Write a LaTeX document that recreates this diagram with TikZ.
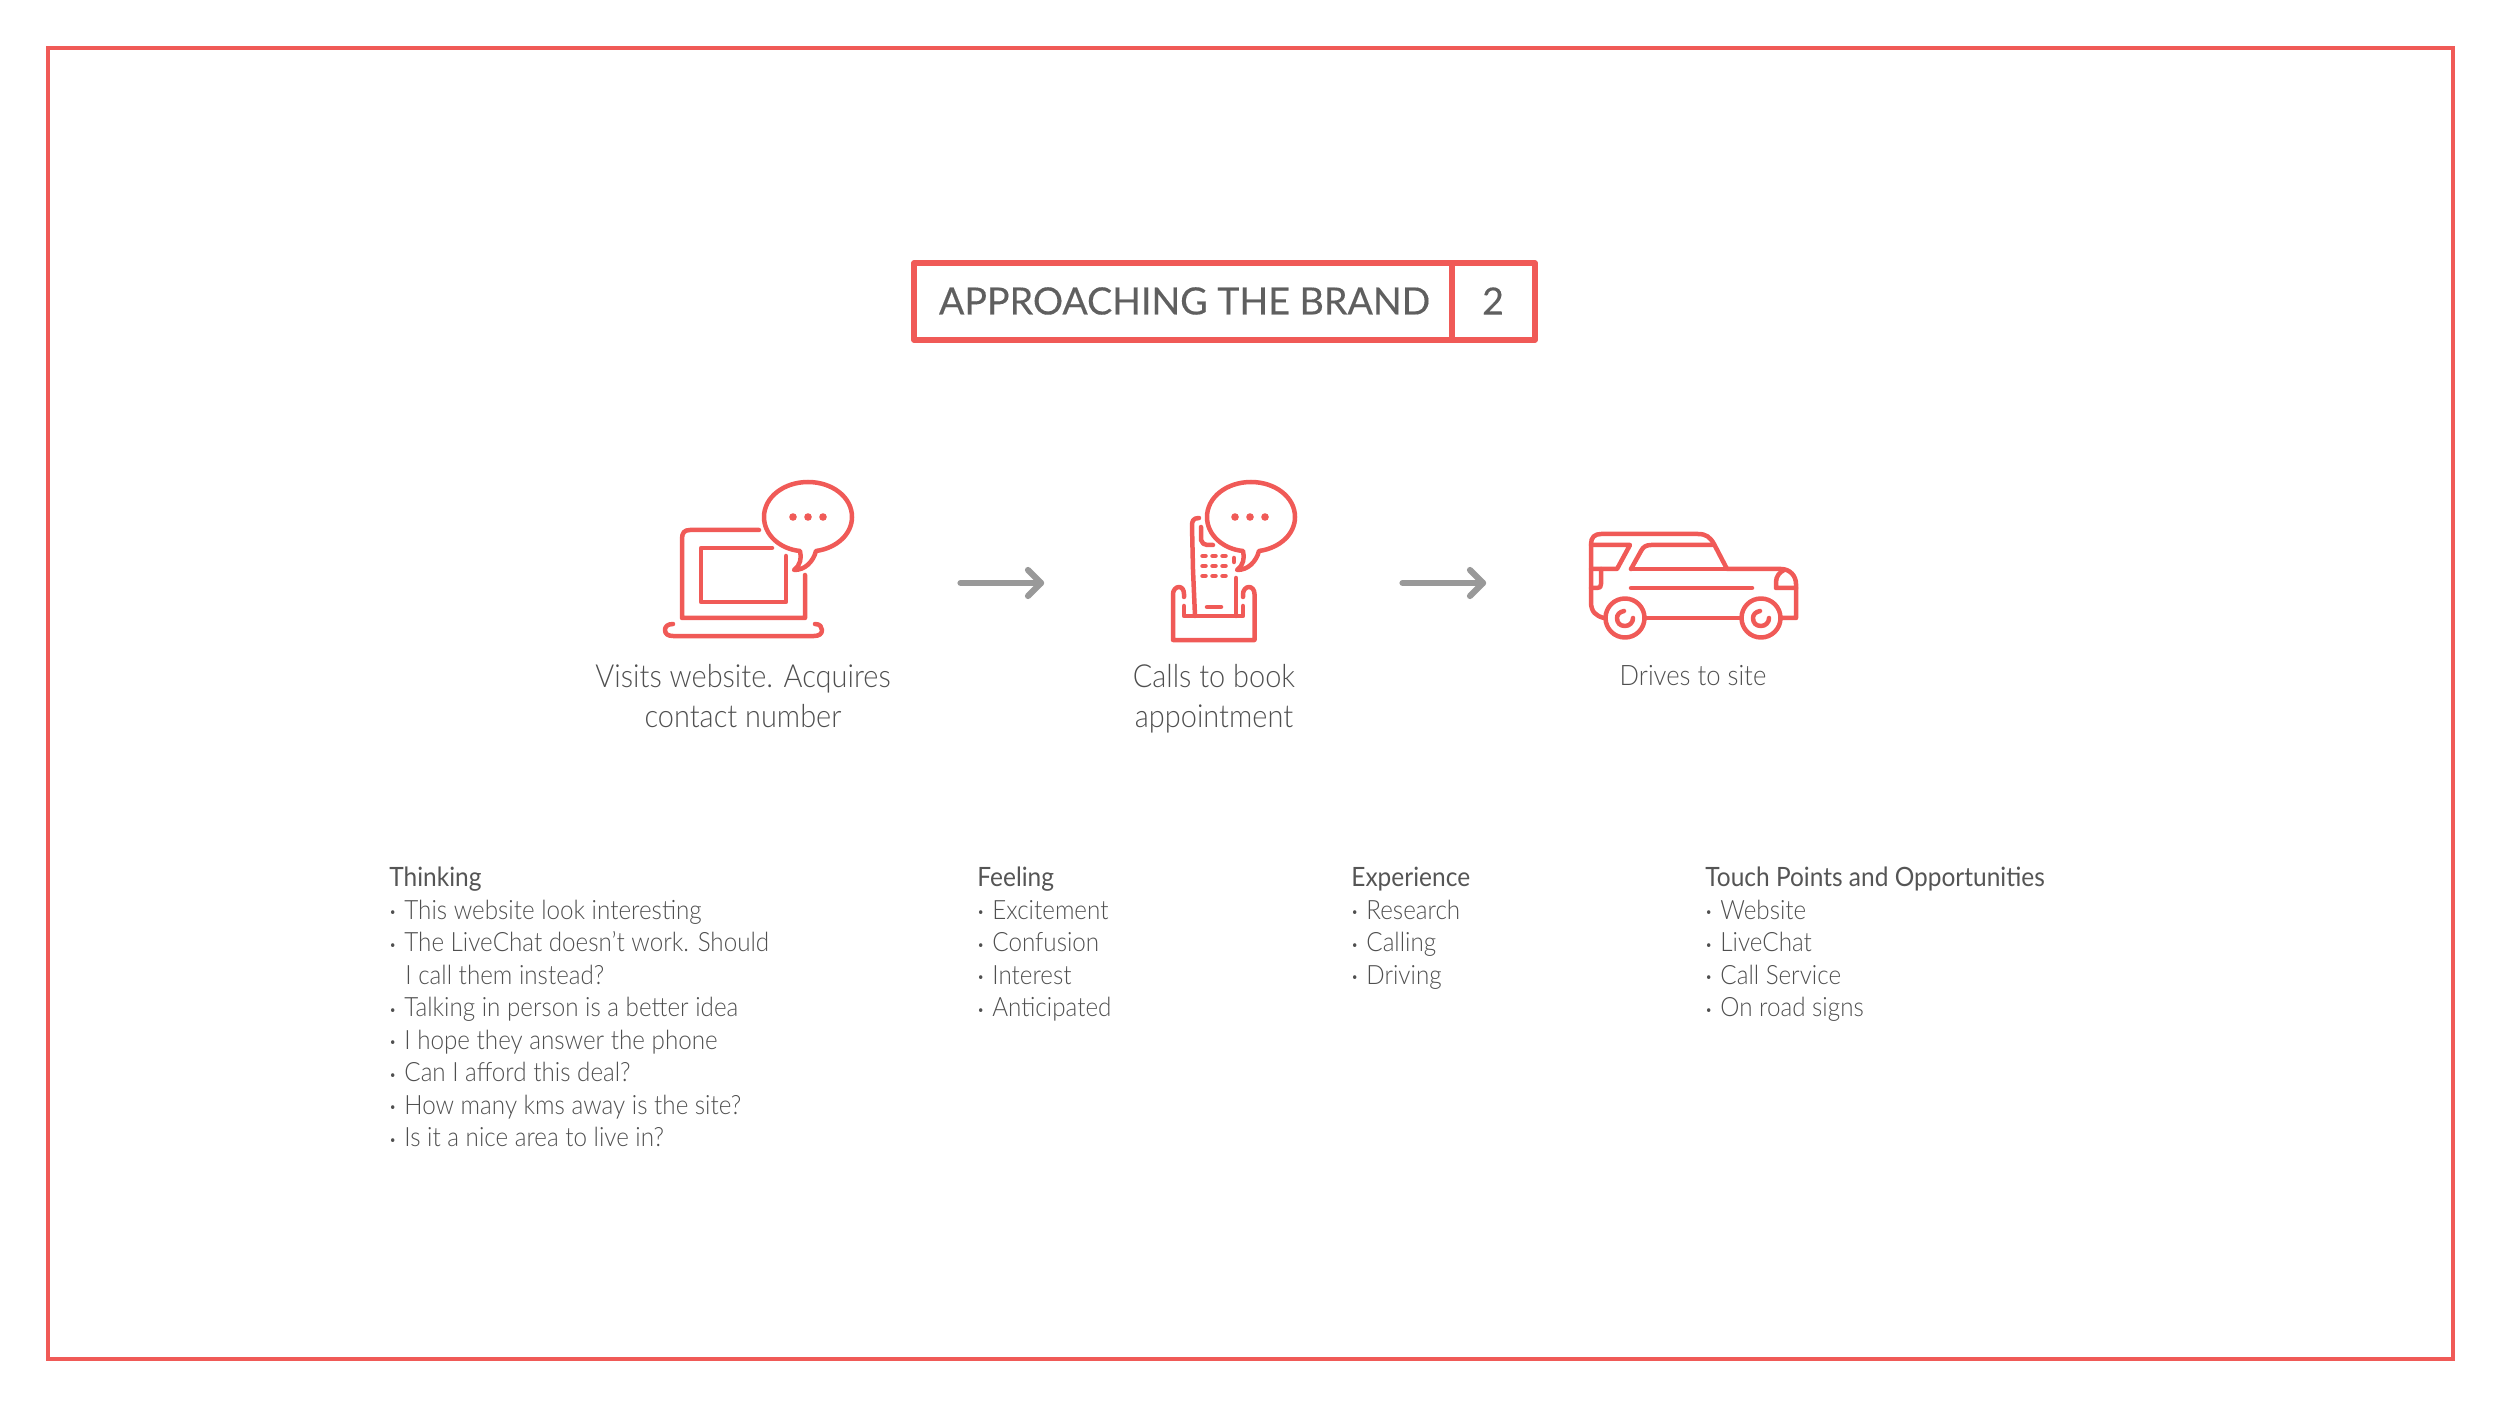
\documentclass[tikz,border=0pt]{standalone}
\usepackage{fontspec}
\usetikzlibrary{calc}
\setmainfont[FakeStretch=0.91]{Lato Light}
\newfontfamily\headfont[FakeStretch=0.92]{Lato}
\newfontfamily\titlefont[FakeBold=0.25]{Lato}
\definecolor{coral}{HTML}{F05A57}
\definecolor{txt}{HTML}{4F4F4F}
\definecolor{txtb}{HTML}{555555}
\definecolor{titlegrey}{HTML}{5F5F5F}
\definecolor{arrowgrey}{HTML}{999999}
\tikzset{
  x=0.5pt,y=-0.5pt,
  icon/.style={draw=coral,line width=2.25pt,line cap=round,line join=round},
  framebox/.style={draw=coral,line width=2pt},
  titlebox/.style={draw=coral,line width=2.6pt,line join=round},
  titletext/.style={text=titlegrey,font=\titlefont\fontsize{18.8}{24}\selectfont},
  flowarrow/.style={draw=arrowgrey,line width=3.1pt,line cap=round,line join=round},
  caption/.style={text=txt,font=\fontsize{15.9}{20}\selectfont,align=center},
  smallcaption/.style={text=txt,font=\fontsize{14.1}{20}\selectfont,align=center},
  listtext/.style={text=txt,font=\fontsize{13.3}{16.25}\selectfont,align=left,anchor=north west,inner sep=0pt},
}
\newcommand{\blt}{\makebox[7.5pt][l]{\raisebox{1.3pt}{\fontsize{6.5}{7}\selectfont •}}}
\newcommand{\hd}[1]{{\headfont\color{txtb}#1}}
\begin{document}
\begin{tikzpicture}
\useasboundingbox (0,0) rectangle (2500,1406);
\draw[framebox] (48,48) rectangle (2452.5,1358.5);
% title
\draw[titlebox] (914,263) rectangle (1535,340);
\draw[titlebox] (1452,263) -- (1452,340);
\node[titletext] (title) at (1184.5,301) {APPROACHING THE BRAND};
\node[titletext] (num) at (1493,301) {2};
% laptop
\begin{scope}[shift={(640,460)}]
\draw[icon] (119,70) -- (50,70) .. controls (44,70) and (42,73) .. (42,79) -- (42,158) -- (165,158) -- (165,115);
\draw[icon] (132,88) -- (61,88) -- (61,142) -- (146,142) -- (146,96);
\draw[icon] (33,164) .. controls (27,164) and (25,167) .. (25,170) .. controls (25,174) and (28,176) .. (33,176) -- (174,176) .. controls (179,176) and (182,174) .. (182,170) .. controls (182,167) and (180,164) .. (175,164);
\draw[icon] (160,91) .. controls (140,89) and (124,75) .. (124,57) .. controls (124,37) and (144,22) .. (168,22) .. controls (192,22) and (212,37) .. (212,57) .. controls (212,74) and (197,88) .. (176,91) .. controls (173,102) and (165,110) .. (154,110) .. controls (160,106) and (162,98) .. (160,91) -- cycle;
\foreach \d in {153,168,183} \fill[coral] (\d,57) circle (3.8);
\end{scope}
% phone
\begin{scope}[shift={(1130,460)}]
\draw[icon] (69,58) .. controls (63,58) and (62,61) .. (62,66) -- (63,110) -- (65,156);
\draw[icon] (106,118) -- (106,156);
\draw[icon] (71,67) -- (71,80) .. controls (72,83) and (74,85) .. (77,85) -- (83,85);
\draw[icon] (104,98) -- (104,102);
\draw[icon] (54,146) -- (54,156) -- (113,156) -- (113,146);
\draw[icon] (54,137) -- (54,134) .. controls (54,130) and (52,127) .. (49,127) .. controls (46,127) and (43,130) .. (43,134) -- (43,180) -- (124.5,180) -- (124.5,134) .. controls (124.5,130) and (122,127) .. (119,127) .. controls (116,127) and (113,130) .. (113,134) -- (113,137);
\draw[icon] (77,147) -- (91,147);
\foreach \yy in {96,106,116} \foreach \xx in {74,84,94} \draw[coral,line width=2.25pt,line cap=round] (\xx-1.5,\yy) -- (\xx+1.5,\yy);
\draw[icon] (113,91) .. controls (93,89) and (77,75) .. (77,57) .. controls (77,37) and (97,22) .. (121,22) .. controls (145,22) and (165,37) .. (165,57) .. controls (165,74) and (150,88) .. (129,91) .. controls (126,102) and (118,110) .. (107,110) .. controls (113,106) and (115,98) .. (113,91) -- cycle;
\foreach \d in {105,120,135} \fill[coral] (\d,57) circle (3.8);
\end{scope}
% car
\begin{scope}[shift={(1570,510)}]
\draw[icon] (34,108) .. controls (26,106) and (21,102) .. (21,92) -- (21,34) .. controls (21,27) and (25,24) .. (31,24) -- (128,24) .. controls (136,24) and (140,27) .. (144,34) -- (157,59) -- (211,59) .. controls (220,59) and (226,66) .. (226,74) -- (226,108) -- (212,108);
\draw[icon] (75,108) -- (171,108);
\draw[icon] (21,35) -- (60,35) -- (47,59) -- (21,59);
\draw[icon] (31,59) -- (31,74) .. controls (31,77) and (30,78) .. (27,78) -- (21,78);
\draw[icon] (61,59) -- (71,41) .. controls (73,37) and (76,35) .. (81,35) -- (142,35);
\draw[icon] (61,59) -- (157,59);
\draw[icon] (61,78) -- (182,78);
\draw[icon] (226,78) -- (206,78) -- (206,72) .. controls (206,66) and (210,62) .. (214,60);
\draw[icon] (55,108) circle (19.5);
\draw[icon] (191,108) circle (19.5);
\draw[icon] (54,101) .. controls (49,102) and (47,105) .. (47,108) .. controls (47,113) and (50,116) .. (55,116) .. controls (60,116) and (63,112) .. (63,108);
\draw[icon] (190,101) .. controls (185,102) and (183,105) .. (183,108) .. controls (183,113) and (186,116) .. (191,116) .. controls (196,116) and (199,112) .. (199,108);
\end{scope}
% arrows
\coordinate (a1s) at (960.5,583);
\coordinate (a1e) at (1041,583);
\coordinate (a2s) at (1402.5,583);
\coordinate (a2e) at (1483,583);
\draw[flowarrow] (a1s) -- (a1e);
\draw[flowarrow] ($(a1e)+(-13,-13)$) -- (a1e) -- ($(a1e)+(-13,13)$);
\draw[flowarrow] (a2s) -- (a2e);
\draw[flowarrow] ($(a2e)+(-13,-13)$) -- (a2e) -- ($(a2e)+(-13,13)$);
% captions
\node[caption] (c1) at (743,696) {Visits website. Acquires\\contact number};
\node[caption] (c2) at (1214,698.5) {Calls to book\\appointment};
\node[smallcaption] (c3) at (1693,676) {Drives to site};
% lists
\node[listtext] (l1) at (389,867) {\hd{Thinking}\\\blt This website look interesting\\\blt The LiveChat doesn’t work. Should\\\hspace*{8pt}I call them instead?\\\blt Talking in person is a better idea\\\blt I hope they answer the phone\\\blt Can I afford this deal?\\\blt How many kms away is the site?\\\blt Is it a nice area to live in?};
\node[listtext] (l2) at (977,867) {\hd{Feeling}\\\blt Excitement\\\blt Confusion\\\blt Interest\\\blt Anticipated};
\node[listtext] (l3) at (1351,867) {\hd{Experience}\\\blt Research\\\blt Calling\\\blt Driving};
\node[listtext] (l4) at (1705,867) {\hd{Touch Points and Opportunities}\\\blt Website\\\blt LiveChat\\\blt Call Service\\\blt On road signs};
\end{tikzpicture}
\end{document}
